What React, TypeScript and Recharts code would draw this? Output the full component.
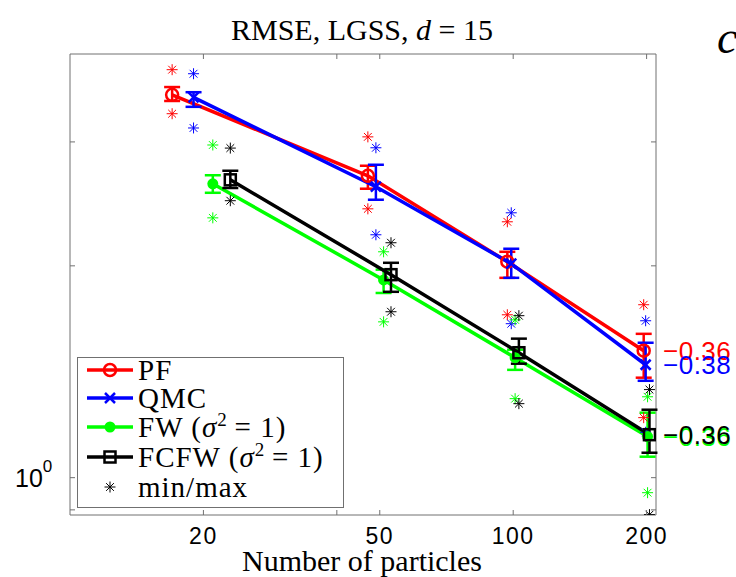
import React from "react";
import { ComposedChart, Line, Scatter, XAxis, YAxis, ErrorBar, ReferenceArea, LabelList } from "recharts";

// number of particles and the small horizontal shift each method gets
const particles = [20, 50, 100, 200];
const methods = ["PF", "QMC", "FW", "FCFW"];
const colors = ["#ff0000", "#0000ff", "#00ff00", "#000000"];
const markers = ["circle", "cross", "dot", "square"];
const xShift = [-3, -1, 1, 3];
const slopes = ["\u22120.36", "\u22120.38", "\u22120.36", "\u22120.36"];

// RMSE: mean, error bar bounds, min and max over runs
const pfMean = [3.5, 2.685, 2.027, 1.515];
const pfLo = [3.43, 2.574, 1.923, 1.387];
const pfHi = [3.59, 2.775, 2.094, 1.601];
const pfMin = [3.29, 2.41, 1.704, 1.217];
const pfMax = [3.8, 3.05, 2.31, 1.761];

const qmcMean = [3.47, 2.591, 2.014, 1.447];
const qmcLo = [3.365, 2.483, 1.923, 1.373];
const qmcHi = [3.53, 2.784, 2.115, 1.555];
const qmcMin = [3.14, 2.214, 1.655, 1.16];
const qmcMax = [3.75, 2.943, 2.379, 1.671];

const fwMean = [2.616, 1.91, 1.481, 1.144];
const fwLo = [2.54, 1.83, 1.423, 1.071];
const fwHi = [2.69, 1.975, 1.52, 1.237];
const fwMin = [2.34, 1.665, 1.295, 0.952];
const fwMax = [2.97, 2.094, 1.676, 1.303];

const fcfwMean = [2.65, 1.943, 1.505, 1.151];
const fcfwLo = [2.58, 1.837, 1.452, 1.085];
const fcfwHi = [2.73, 2.02, 1.576, 1.249];
const fcfwMin = [2.475, 1.721, 1.274, 0.886];
const fcfwMax = [2.94, 2.157, 1.699, 1.334];

const xTicks = [20, 40, 50, 100, 200];
const xTickLabels = ["20", "", "50", "100", "200"];
const yTicks = [0.9, 1, 2, 3];
const X_DOMAIN = [10, 210];
const Y_DOMAIN = [0.885, 4];

const W = 736;
const H = 577;
const PLOT_TOP = 54;
const PLOT_BOTTOM = 515;
const PLOT_LEFT = 70;
const PLOT_RIGHT = 656;
const FRAME = "#707070";
const SERIF = "'Liberation Serif', 'DejaVu Serif', serif";
const SANS = "'Liberation Sans', Arial, sans-serif";

const stats = [
  { mean: pfMean, lo: pfLo, hi: pfHi, min: pfMin, max: pfMax },
  { mean: qmcMean, lo: qmcLo, hi: qmcHi, min: qmcMin, max: qmcMax },
  { mean: fwMean, lo: fwLo, hi: fwHi, min: fwMin, max: fwMax },
  { mean: fcfwMean, lo: fcfwLo, hi: fcfwHi, min: fcfwMin, max: fcfwMax },
];

const series = methods.map((name, m) => {
  const s = stats[m];
  return {
    name,
    color: colors[m],
    marker: markers[m],
    slope: slopes[m],
    line: particles.map((n, i) => ({
      x: n + xShift[m],
      y: s.mean[i],
      err: [s.mean[i] - s.lo[i], s.hi[i] - s.mean[i]],
    })),
    extremes: particles.flatMap((n, i) => [
      { x: n + xShift[m], y: s.min[i] },
      { x: n + xShift[m], y: s.max[i] },
    ]),
  };
});

function Marker({ kind, cx, cy, color }: { kind: string; cx: number; cy: number; color: string }) {
  if (kind === "circle")
    return <circle cx={cx} cy={cy} r={6} fill="none" stroke={color} strokeWidth={2.5} />;
  if (kind === "dot") return <circle cx={cx} cy={cy} r={5.5} fill={color} />;
  if (kind === "square")
    return <rect x={cx - 5.5} y={cy - 5.5} width={11} height={11} fill="none" stroke={color} strokeWidth={2.5} />;
  if (kind === "cross")
    return (
      <g stroke={color} strokeWidth={2.5}>
        <line x1={cx - 5} y1={cy - 5} x2={cx + 5} y2={cy + 5} />
        <line x1={cx - 5} y1={cy + 5} x2={cx + 5} y2={cy - 5} />
      </g>
    );
  // asterisk for min/max
  const r = 5.5;
  const d = r * 0.707;
  return (
    <g stroke={color} strokeWidth={1}>
      <line x1={cx - r} y1={cy} x2={cx + r} y2={cy} />
      <line x1={cx} y1={cy - r} x2={cx} y2={cy + r} />
      <line x1={cx - d} y1={cy - d} x2={cx + d} y2={cy + d} />
      <line x1={cx - d} y1={cy + d} x2={cx + d} y2={cy - d} />
    </g>
  );
}

function XTick(props: any) {
  const { x, payload } = props;
  const label = xTickLabels[xTicks.indexOf(payload.value)];
  return (
    <g>
      <line x1={x} x2={x} y1={PLOT_BOTTOM} y2={PLOT_BOTTOM - 5} stroke={FRAME} />
      <line x1={x} x2={x} y1={PLOT_TOP} y2={PLOT_TOP + 5} stroke={FRAME} />
      {label && (
        <text x={x} y={PLOT_BOTTOM + 29} textAnchor="middle" fontFamily={SANS} fontSize={23} letterSpacing={1.5} fill="#000">
          {label}
        </text>
      )}
    </g>
  );
}

function YTick(props: any) {
  const { y, payload } = props;
  return (
    <g>
      <line x1={PLOT_LEFT} x2={PLOT_LEFT + 5} y1={y} y2={y} stroke={FRAME} />
      <line x1={PLOT_RIGHT} x2={PLOT_RIGHT - 5} y1={y} y2={y} stroke={FRAME} />
      {payload.value === 1 && (
        <text x={15} y={y + 9} fontFamily={SANS} fontSize={25} fill="#000">
          10
          <tspan dy={-15} fontSize={17}>0</tspan>
        </text>
      )}
    </g>
  );
}

function Overlay() {
  const rowY = [370, 398, 427, 457, 487];
  const sampleX1 = 87;
  const sampleX2 = 133;
  const textX = 138;
  const sigmaTerm = (prefix: string) => (
    <>
      <tspan>{prefix} (</tspan>
      <tspan fontStyle="italic">σ</tspan>
      <tspan dy={-11} fontSize={19}>2</tspan>
      <tspan dy={11}>{"\u2009= 1)"}</tspan>
    </>
  );
  const labels = [<tspan>PF</tspan>, <tspan>QMC</tspan>, sigmaTerm("FW"), sigmaTerm("FCFW")];
  return (
    <svg width={W} height={H} style={{ position: "absolute", left: 0, top: 0, pointerEvents: "none" }}>
      <text x={362} y={40} textAnchor="middle" fontFamily={SERIF} fontSize={30} fill="#000">
        RMSE, LGSS, <tspan fontStyle="italic">d</tspan> = 15
      </text>
      <text x={362} y={571} textAnchor="middle" fontFamily={SERIF} fontSize={30} fill="#000">
        Number of particles
      </text>
      <text x={717} y={53} fontFamily={SERIF} fontStyle="italic" fontSize={46} fill="#000">
        c
      </text>
      <rect x={77.5} y={357.5} width={266} height={150} fill="#fff" stroke={FRAME} />
      {series.map((s, i) => (
        <g key={s.name}>
          <line x1={sampleX1} x2={sampleX2} y1={rowY[i]} y2={rowY[i]} stroke={s.color} strokeWidth={3.5} />
          <Marker kind={s.marker} cx={(sampleX1 + sampleX2) / 2} cy={rowY[i]} color={s.color} />
          <text x={textX} y={rowY[i] + 10} fontFamily={SERIF} fontSize={29} letterSpacing={1} fill="#000">
            {labels[i]}
          </text>
        </g>
      ))}
      <Marker kind="asterisk" cx={(sampleX1 + sampleX2) / 2} cy={rowY[4]} color="#000" />
      <text x={textX} y={rowY[4] + 10} fontFamily={SERIF} fontSize={29} letterSpacing={1} fill="#000">
        min/max
      </text>
    </svg>
  );
}

export default function App() {
  return (
    <div style={{ position: "absolute", left: 0, top: 0, width: W, height: H, background: "#fff", overflow: "hidden" }}>
      <ComposedChart
        width={W}
        height={H}
        margin={{ top: PLOT_TOP, right: W - PLOT_RIGHT, bottom: 0, left: 0 }}
        style={{ overflow: "visible" }}
      >
        <XAxis
          dataKey="x"
          type="number"
          scale="log"
          domain={X_DOMAIN}
          allowDataOverflow
          ticks={xTicks}
          interval={0}
          tick={(p: any) => <XTick {...p} />}
          tickLine={false}
          axisLine={false}
          height={H - PLOT_BOTTOM}
        />
        <YAxis
          dataKey="y"
          type="number"
          scale="log"
          domain={Y_DOMAIN}
          allowDataOverflow
          ticks={yTicks}
          interval={0}
          tick={(p: any) => <YTick {...p} />}
          tickLine={false}
          axisLine={false}
          width={PLOT_LEFT}
        />
        <ReferenceArea
          x1={X_DOMAIN[0]}
          x2={X_DOMAIN[1]}
          y1={Y_DOMAIN[0]}
          y2={Y_DOMAIN[1]}
          fill="none"
          stroke={FRAME}
          strokeWidth={1}
          ifOverflow="visible"
        />
        {series.map((s) => (
          <Scatter
            key={s.name + "-ext"}
            data={s.extremes}
            dataKey="y"
            isAnimationActive={false}
            shape={(p: any) => <Marker kind="asterisk" cx={p.cx} cy={p.cy} color={s.color} />}
          />
        ))}
        {series.map((s) => (
          <Line
            key={s.name}
            data={s.line}
            dataKey="y"
            type="linear"
            stroke={s.color}
            strokeWidth={3.5}
            isAnimationActive={false}
            activeDot={false}
            dot={(p: any) => <Marker key={p.index} kind={s.marker} cx={p.cx} cy={p.cy} color={s.color} />}
          >
            <ErrorBar dataKey="err" direction="y" width={8} stroke={s.color} strokeWidth={2.5} />
            <LabelList
              dataKey="y"
              content={(p: any) =>
                p.index === particles.length - 1 ? (
                  <text x={PLOT_RIGHT + 7} y={p.y + 9} fontFamily={SANS} fontSize={26} letterSpacing={0.5} fill={s.color}>
                    {s.slope}
                  </text>
                ) : null
              }
            />
          </Line>
        ))}
      </ComposedChart>
      <Overlay />
    </div>
  );
}
